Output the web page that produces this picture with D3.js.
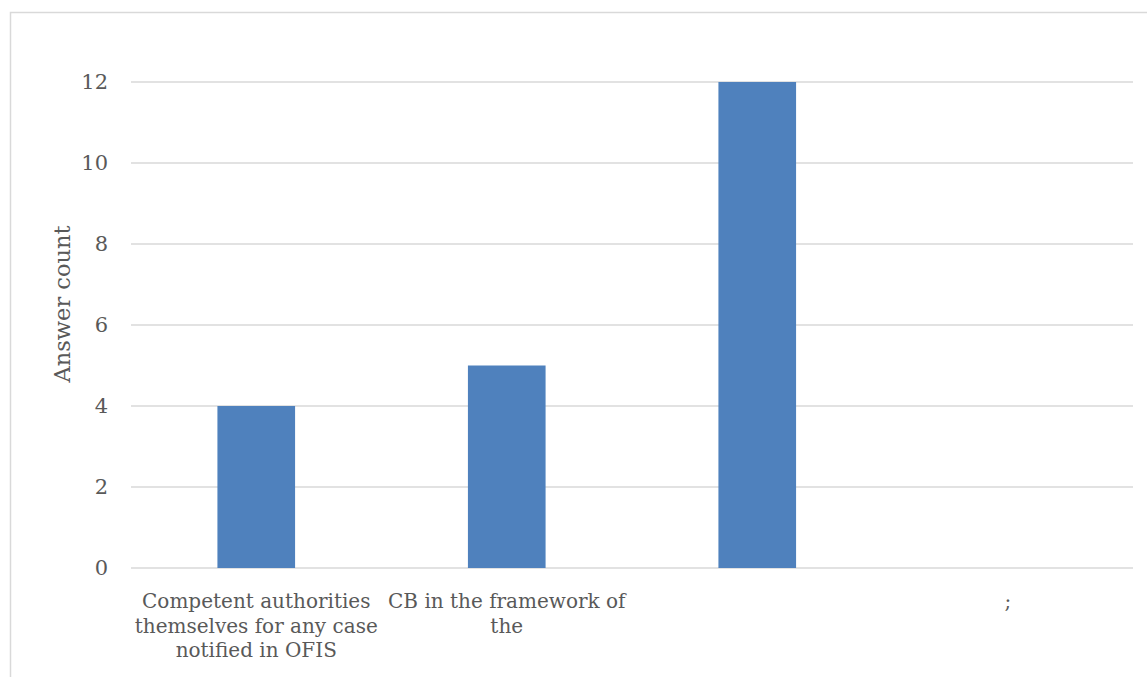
<!DOCTYPE html>
<html><head><meta charset="utf-8">
<script src="https://cdn.jsdelivr.net/npm/d3@7"></script>
<style>body{margin:0;background:#fff}svg{display:block}</style>
</head><body>
<svg id="chart" width="1147" height="677"></svg>
<script>
const categories = [
  ["Competent authorities", "themselves for any case", "notified in OFIS"],
  ["CB in the framework of", "the"],
  [""],
  [";"]
];
const values = [4, 5, 12, 0];
const yTicks = [0, 2, 4, 6, 8, 10, 12];
const yTitle = "Answer count";

(function () {
const svg = d3.select("#chart");
const font = "'DejaVu Serif', serif";
const textColor = "#595959";

svg.append("rect").attr("x", 10.5).attr("y", 12.5).attr("width", 1160).attr("height", 700)
  .attr("fill", "none").attr("stroke", "#D9D9D9").attr("stroke-width", 1.5);

const pLeft = 131, pRight = 1133, pTop = 82, pBottom = 568;
const x = d3.scaleBand().domain(d3.range(values.length)).range([pLeft, pRight]).paddingInner(0.69).paddingOuter(0.345);
const y = d3.scaleLinear().domain([0, 12]).range([pBottom, pTop]);

svg.append("g").selectAll("line").data(yTicks).join("line")
  .attr("x1", pLeft).attr("x2", pRight)
  .attr("y1", d => y(d)).attr("y2", d => y(d))
  .attr("stroke", "#D9D9D9").attr("stroke-width", 1.5);

const yAxis = d3.axisLeft(y).tickValues(yTicks).tickSize(0).tickPadding(0);
const ga = svg.append("g").attr("transform", `translate(${pLeft - 23},0)`).call(yAxis);
ga.select(".domain").remove();
ga.selectAll("text").attr("font-family", font).attr("font-size", 21).attr("fill", textColor);

svg.append("g").selectAll("rect").data(values).join("rect")
  .attr("x", (d, i) => x(i)).attr("width", x.bandwidth())
  .attr("y", d => y(d)).attr("height", d => y(0) - y(d))
  .attr("fill", "#4F81BD");

const band = (pRight - pLeft) / values.length;
const lbl = svg.append("g");
categories.forEach((lines, i) => {
  const cx = pLeft + band * (i + 0.5);
  const t = lbl.append("text").attr("text-anchor", "middle")
    .attr("font-family", font).attr("font-size", 20).attr("fill", textColor);
  lines.forEach((ln, j) => {
    t.append("tspan").attr("x", cx).attr("y", 608 + j * 24.5).text(ln);
  });
});

svg.append("text").attr("transform", `translate(70,304) rotate(-90)`)
  .attr("text-anchor", "middle").attr("font-family", font).attr("font-size", 22.5)
  .attr("fill", textColor).text(yTitle);
})();
</script>
</body></html>
